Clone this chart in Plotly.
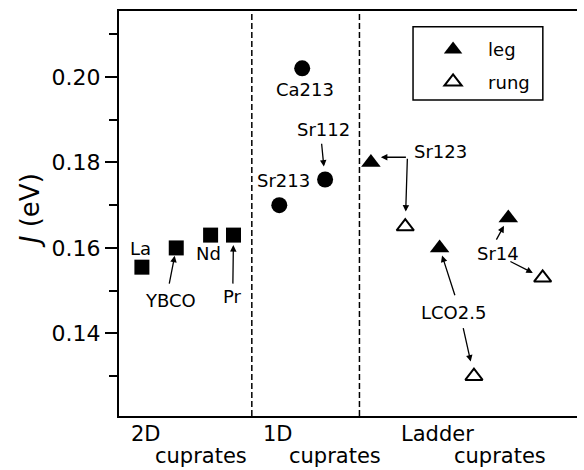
import plotly.graph_objects as go

# ---------------- data ----------------
sq_names = ["La", "YBCO", "Nd", "Pr"]
sq_x = [0.5, 1.25, 2.0, 2.5]
sq_J = [0.1555, 0.160, 0.163, 0.163]

ci_names = ["Sr213", "Ca213", "Sr112"]
ci_x = [3.5, 4.0, 4.5]
ci_J = [0.170, 0.202, 0.176]

lad_names = ["Sr123", "LCO2.5", "Sr14"]
leg_x = [5.5, 7.0, 8.5]
leg_J = [0.180, 0.160, 0.167]
rung_x = [6.25, 7.75, 9.25]
rung_J = [0.165, 0.130, 0.153]

separators = [2.9, 5.25]
group_labels = [("2D", "cuprates"), ("1D", "cuprates"), ("Ladder", "cuprates")]
y_range = [0.1207, 0.2154]
x_range = [0, 10]
y_major = [0.14, 0.16, 0.18, 0.20]

FONT = "DejaVu Sans"

fig = go.Figure()
fig.add_trace(go.Scatter(x=sq_x, y=sq_J, mode="markers", showlegend=False,
                         marker=dict(symbol="square", size=15, color="black")))
fig.add_trace(go.Scatter(x=ci_x, y=ci_J, mode="markers", showlegend=False,
                         marker=dict(symbol="circle", size=16, color="black")))
fig.add_trace(go.Scatter(x=leg_x, y=leg_J, mode="markers", name="leg",
                         legendgroup="leg",
                         marker=dict(symbol="triangle-up", size=17, color="black")))
fig.add_trace(go.Scatter(x=rung_x, y=rung_J, mode="markers", name="rung",
                         legendgroup="rung",
                         marker=dict(symbol="triangle-up-open", size=15, color="black",
                                     line=dict(width=2, color="black"))))

# separators
for s in separators:
    fig.add_shape(type="line", xref="x", yref="paper", x0=s, x1=s, y0=0, y1=1,
                  line=dict(color="black", width=1.5, dash="6px,3px"))

# legend frame
fig.add_shape(type="rect", xref="paper", yref="paper", x0=0.642, x1=0.9254,
              y0=0.780, y1=0.961, line=dict(color="black", width=1.5))

ann = []
def label(text, x, y, xanchor="center", size=18):
    ann.append(dict(text=text, x=x, y=y, xref="x", yref="y", showarrow=False,
                    xanchor=xanchor, yanchor="middle",
                    font=dict(family=FONT, size=size, color="black")))

def arrow(tail_x, tail_y, tip_x, tip_y, standoff):
    ann.append(dict(text="", x=tip_x, y=tip_y, ax=tail_x, ay=tail_y,
                    xref="x", yref="y", axref="x", ayref="y", showarrow=True,
                    arrowhead=2, arrowsize=1, arrowwidth=1.3, arrowcolor="black",
                    standoff=standoff))

# point labels
label("La", 0.469, 0.1598)
label("YBCO", 1.123, 0.1477)
label("Nd", 1.963, 0.1588)
label("Pr", 2.48, 0.1486)
label("Ca213", 4.057, 0.1971)
label("Sr112", 4.456, 0.1877)
label("Sr213", 3.588, 0.1757)
label("Sr123", 6.406, 0.1826, xanchor="left")
label("Sr14", 8.266, 0.1586)
label("LCO2.5", 7.306, 0.1448)

# arrows
arrow(1.091, 0.1513, sq_x[1], sq_J[1], 8)
arrow(2.486, 0.1513, sq_x[3], sq_J[3], 10)
arrow(4.421, 0.1847, ci_x[2], ci_J[2], 13)
corner = (6.297, 0.1812)
arrow(corner[0], corner[1], leg_x[0], corner[1], 10)
arrow(corner[0], corner[1], rung_x[0], rung_J[0], 15)
arrow(7.344, 0.1486, leg_x[1], leg_J[1], 8)
arrow(7.509, 0.1416, rung_x[1], rung_J[1], 15)
arrow(8.222, 0.1616, leg_x[2], leg_J[2], 9)
arrow(8.513, 0.1570, rung_x[2], rung_J[2], 11)

# group labels below axis
grp_pos = [(0.6, 1.784), (3.475, 4.711), (6.963, 8.31)]
for (top, bot), (xt, xb) in zip(group_labels, grp_pos):
    ann.append(dict(text=top, x=xt, y=-0.045, xref="x", yref="paper", showarrow=False,
                    xanchor="center", yanchor="middle",
                    font=dict(family=FONT, size=21, color="black")))
    ann.append(dict(text=bot, x=xb, y=-0.098, xref="x", yref="paper", showarrow=False,
                    xanchor="center", yanchor="middle",
                    font=dict(family=FONT, size=21, color="black")))

# y title
ann.append(dict(text="<i>J</i> (eV)", x=-0.194, y=0.506, xref="paper", yref="paper",
                showarrow=False, textangle=-90, xanchor="center", yanchor="middle",
                font=dict(family=FONT, size=26, color="black")))

fig.update_layout(
    width=584, height=470,
    margin=dict(l=119, r=6.5, t=11, b=54.3),
    paper_bgcolor="white", plot_bgcolor="white",
    font=dict(family=FONT, color="black"),
    annotations=ann,
    xaxis=dict(range=x_range, showgrid=False, zeroline=False, showticklabels=False,
               ticks="", showline=True, linecolor="black", linewidth=2, mirror=True),
    yaxis=dict(range=y_range, showgrid=False, zeroline=False, showline=True,
               linecolor="black", linewidth=2, ticks="outside", ticklen=12, tickwidth=2,
               tickcolor="black", tickvals=y_major, tickformat=".2f",
               tickfont=dict(family=FONT, size=22, color="black"),
               minor=dict(ticks="outside", ticklen=8, tickwidth=2, tickcolor="black", dtick=0.01)),
    yaxis2=dict(range=y_range, overlaying="y", side="right", showgrid=False, zeroline=False,
                showline=True, linecolor="black", linewidth=2, ticks="inside", ticklen=7,
                tickwidth=2, tickcolor="black", tickvals=y_major, showticklabels=False,
                minor=dict(ticks="inside", ticklen=7, tickwidth=2, tickcolor="black", dtick=0.01)),
    legend=dict(x=0.653, y=0.950, xanchor="left", yanchor="top", borderwidth=0,
                bgcolor="rgba(0,0,0,0)", tracegroupgap=6, itemwidth=60,
                font=dict(family=FONT, size=18, color="black")),
)
fig.write_html("out.html", config={"displayModeBar": False},
               post_script="document.body.style.margin='0';document.body.style.padding='0';")
